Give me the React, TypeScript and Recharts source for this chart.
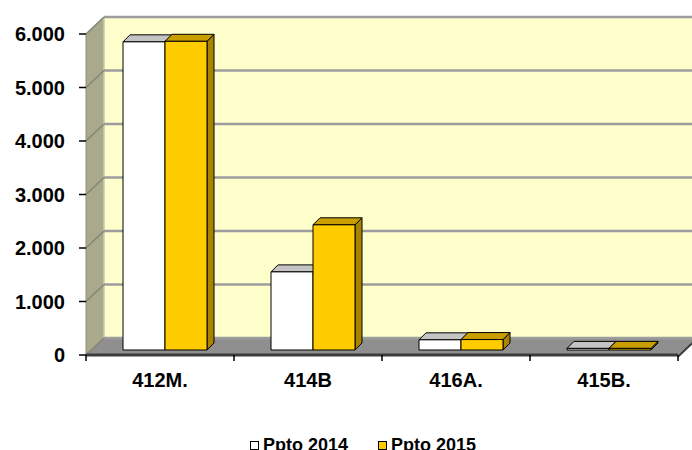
import { BarChart, Bar, XAxis, YAxis, CartesianGrid, Legend } from "recharts";

const CATEGORIES = ["412M.", "414B", "416A.", "415B."];
const PPTO_2014 = [5760, 1460, 190, 30];
const PPTO_2015 = [5770, 2340, 195, 30];
const Y_TICKS = [0, 1000, 2000, 3000, 4000, 5000, 6000];
const SERIES_NAMES = ["Ppto 2014", "Ppto 2015"];

const data = CATEGORIES.map((name, i) => ({ name, p2014: PPTO_2014[i], p2015: PPTO_2015[i] }));

const W = 692;
const H = 450;
const PLOT_LEFT = 86;
const PLOT_TOP = 34;
const PLOT_RIGHT = 678;
const PLOT_BOTTOM = 355;
const DX = 18; // wall depth
const DY = 17;
const BAR_SHIFT = 5; // bars sit a bit behind the front plane
const BAR_DEPTH = 7;
const BAND = (PLOT_RIGHT - PLOT_LEFT) / CATEGORIES.length;
const FONT = "Arial, 'Liberation Sans', sans-serif";

const WHITE = { front: "#FFFFFF", top: "#C4C4C4", side: "#B8B8B8" };
const GOLD = { front: "#FFCC00", top: "#C99E00", side: "#A88400" };

const fmt = (v: number) => (v === 0 ? "0" : `${v / 1000}.000`);

function make3D(c: { front: string; top: string; side: string }) {
    return (props: any) => {
        const { x, y, width, height } = props;
        if (width == null || height == null) return <g />;
        const fx = x + BAR_SHIFT;
        const fy = y - BAR_SHIFT;
        const d = BAR_DEPTH;
        const top = `${fx},${fy} ${fx + d},${fy - d} ${fx + width + d},${fy - d} ${fx + width},${fy}`;
        const side = `${fx + width},${fy} ${fx + width + d},${fy - d} ${fx + width + d},${fy + height - d} ${fx + width},${fy + height}`;
        return (
            <g stroke="#000" strokeWidth={1} strokeLinejoin="round">
                <polygon points={side} fill={c.side} />
                <polygon points={top} fill={c.top} />
                <rect x={fx} y={fy} width={width} height={Math.max(height, 0.5)} fill={c.front} />
            </g>
        );
    };
}

const gridLine = (props: any) => {
    const { x1, y1, x2, key } = props;
    return (
        <g key={key}>
            <line x1={x1} y1={y1} x2={x1 + DX} y2={y1 - DY} stroke="#85857a" strokeWidth={1.5} />
            <line x1={x1 + DX} y1={y1 - DY} x2={x2 + DX} y2={y1 - DY} stroke="#9c9c9c" strokeWidth={2.5} />
        </g>
    );
};

const XTick = (props: any) => {
    const { x, y, payload, index } = props;
    const left = x - BAND / 2;
    return (
        <g>
            <line x1={left} y1={y} x2={left} y2={y + 6} stroke="#000" strokeWidth={1.5} />
            {index === CATEGORIES.length - 1 && (
                <line x1={x + BAND / 2} y1={y} x2={x + BAND / 2} y2={y + 6} stroke="#000" strokeWidth={1.5} />
            )}
            <text x={x} y={y} dy={32} textAnchor="middle" fontSize={20} fontWeight="bold" fontFamily={FONT} fill="#000">
                {payload.value}
            </text>
        </g>
    );
};

const LegendContent = () => (
    <div style={{ display: "flex", marginLeft: 250, height: 20, lineHeight: "20px", fontFamily: FONT, fontWeight: "bold", fontSize: 18 }}>
        {SERIES_NAMES.map((n, i) => (
            <div key={n} style={{ display: "flex", alignItems: "center", marginRight: 30 }}>
                <span style={{ display: "inline-block", width: 7, height: 7, border: "1.5px solid #000", background: i === 0 ? WHITE.front : GOLD.front, marginRight: 4 }} />
                <span>{n}</span>
            </div>
        ))}
    </div>
);

export default function App() {
    return (
        <div style={{ position: "absolute", left: 0, top: 0, width: W, height: H, background: "#fff", overflow: "hidden" }}>
            <svg width={W} height={H} style={{ position: "absolute", left: 0, top: 0 }}>
                {/* back wall */}
                <polygon points={`${PLOT_LEFT + DX},${PLOT_TOP - DY} ${PLOT_RIGHT + DX},${PLOT_TOP - DY} ${PLOT_RIGHT + DX},${PLOT_BOTTOM - DY} ${PLOT_LEFT + DX},${PLOT_BOTTOM - DY}`} fill="#FFFFCC" />
                {/* left wall */}
                <polygon points={`${PLOT_LEFT},${PLOT_TOP} ${PLOT_LEFT + DX},${PLOT_TOP - DY} ${PLOT_LEFT + DX},${PLOT_BOTTOM - DY} ${PLOT_LEFT},${PLOT_BOTTOM}`} fill="#A9A98B" stroke="#8f8f78" strokeWidth={1} />
                {/* floor */}
                <polygon points={`${PLOT_LEFT},${PLOT_BOTTOM} ${PLOT_LEFT + DX},${PLOT_BOTTOM - DY} ${PLOT_RIGHT + DX},${PLOT_BOTTOM - DY} ${PLOT_RIGHT},${PLOT_BOTTOM}`} fill="#8F8F8F" />
                <polygon points={`${PLOT_RIGHT},${PLOT_BOTTOM} ${PLOT_RIGHT + DX},${PLOT_BOTTOM - DY} ${PLOT_RIGHT + DX},${PLOT_BOTTOM - DY + 3} ${PLOT_RIGHT},${PLOT_BOTTOM + 3}`} fill="#3c3c3c" />
                <line x1={PLOT_LEFT + DX} y1={PLOT_TOP - DY} x2={PLOT_LEFT + DX} y2={PLOT_BOTTOM - DY} stroke="#e8e8c8" strokeWidth={1} />
            </svg>
            <div style={{ position: "absolute", left: 0, top: 0 }}>
                <BarChart width={W} height={H} data={data} margin={{ top: PLOT_TOP, right: W - PLOT_RIGHT, bottom: 45, left: 0 }} barCategoryGap={32} barGap={0}>
                    <CartesianGrid vertical={false} horizontal={gridLine} />
                    <XAxis
                        dataKey="name"
                        height={30}
                        axisLine={{ stroke: "#3c3c3c", strokeWidth: 3 }}
                        tickLine={false}
                        tickSize={0}
                        tickMargin={0}
                        tick={<XTick />}
                        interval={0}
                    />
                    <YAxis
                        width={PLOT_LEFT}
                        domain={[0, 6000]}
                        ticks={Y_TICKS}
                        tickFormatter={fmt}
                        axisLine={false}
                        tickLine={{ stroke: "#000", strokeWidth: 1.5 }}
                        tickSize={7}
                        tickMargin={14}
                        tick={{ fill: "#000", fontSize: 20, fontWeight: "bold", fontFamily: FONT }}
                    />
                    <Legend verticalAlign="bottom" content={<LegendContent />} wrapperStyle={{ top: 435, left: 0, width: W, height: 20 }} />
                    <Bar dataKey="p2014" name={SERIES_NAMES[0]} fill={WHITE.front} shape={make3D(WHITE)} isAnimationActive={false} />
                    <Bar dataKey="p2015" name={SERIES_NAMES[1]} fill={GOLD.front} shape={make3D(GOLD)} isAnimationActive={false} />
                </BarChart>
            </div>
        </div>
    );
}
